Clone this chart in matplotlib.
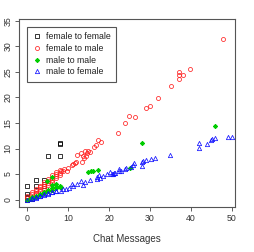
import numpy as np
import matplotlib
matplotlib.use("Agg")
import matplotlib.pyplot as plt

plt.rcParams['font.family'] = ['Liberation Sans', 'DejaVu Sans']

# female to female (black squares)
ff_x = [0, 0, 0, 1, 0, 0, 2, 4, 2, 4, 5, 8, 8, 8]
ff_y = [0, 0.3, 0.6, 0.2, 1.0, 2.6, 2.6, 2.6, 3.9, 3.9, 8.6, 8.6, 10.8, 11.0]

# female to male (red circles)
fm_x = [0, 0, 1, 1, 1, 2, 2, 2, 2, 3, 3, 3, 3, 4, 4, 4, 4, 5, 5, 5, 5,
        6, 6, 6, 6, 7, 7, 7, 7, 8, 8, 8,
        8.1, 8.8, 9.0, 9.8, 9.9, 10.8, 11.2, 11.6, 11.9, 12.2, 13.3, 13.8,
        13.2, 13.5, 14.3, 14.0, 14.5, 14.8, 15.2, 16.2, 16.9, 17.2, 18.1,
        22.2, 24.0, 24.9, 26.3, 29.0, 30.1, 31.9, 35.2, 37, 37, 37, 38.1,
        39.9, 48.0]
fm_y = [0.3, 0.8, 0.6, 1.0, 1.4, 1.0, 1.3, 1.7, 2.1, 1.6, 2.0, 2.4, 2.7,
        2.3, 2.6, 3.0, 3.4, 2.9, 3.3, 3.7, 4.1, 3.5, 3.9, 4.3, 4.8, 4.2,
        4.6, 5.0, 5.4, 4.9, 5.3, 5.8,
        5.6, 5.6, 5.9, 5.6, 6.1, 6.8, 7.0, 7.2, 7.4, 8.7, 7.4, 8.1,
        9.1, 8.6, 8.6, 9.5, 9.2, 9.6, 9.4, 10.3, 10.7, 11.6, 11.2,
        13.0, 14.9, 16.4, 16.2, 17.9, 18.3, 19.8, 22.3, 24.9, 24.3, 23.7, 24.3,
        25.6, 31.5]

# male to male (green stars)
mm_x = [0, 0.5, 1, 1, 2, 2, 3, 3, 4, 4, 5, 5, 6, 6, 7, 7, 8, 8, 4.7, 5.9,
        6, 7, 8.2, 14.9, 15.6, 16.1, 17.2, 25.1, 28.1, 46.0]
mm_y = [0, 0.2, 0.3, 0.5, 0.6, 0.8, 0.9, 1.1, 1.3, 1.5, 1.6, 1.9, 1.9, 2.2,
        2.2, 2.5, 2.4, 2.7, 3.6, 4.4, 2.8, 3.0, 2.4, 5.4, 5.5, 5.6, 5.7,
        6.2, 11.1, 14.4]

# male to female (blue triangles)
mf_x = [0, 1, 1, 2, 2, 3, 3, 4, 4, 5, 5, 6, 6, 7, 7,
        8.2, 8.8, 9.4, 10.2, 10.8, 11.2, 12.1, 13.0, 13.7, 14.1, 15.2, 17.0,
        17.0, 17.6, 17.8, 18.6, 19.6, 20.2, 20.6, 20.9, 21.2, 21.4, 22.3,
        22.5, 22.9, 23.9, 24.1, 25.4, 25.9, 26.2, 28.1, 28.1, 28.4, 29.0,
        30.2, 31.3, 35.0, 41.9, 41.9, 44.0, 45.0, 45.3, 46.0, 49.0, 50.2]
mf_y = [0, 0.2, 0.3, 0.4, 0.5, 0.7, 0.8, 0.9, 1.0, 1.1, 1.3, 1.4, 1.5, 1.6,
        1.7, 1.7, 2.0, 2.0, 2.2, 3.0, 2.6, 3.0, 3.6, 2.8, 3.5, 3.8, 4.0,
        4.5, 4.9, 4.2, 4.7, 5.1, 5.4, 5.1, 5.1, 5.3, 5.3, 5.6,
        6.0, 5.6, 5.9, 6.1, 6.4, 6.8, 7.1, 6.6, 7.3, 7.6, 7.8,
        7.9, 8.1, 8.8, 11.0, 10.1, 10.9, 11.7, 11.9, 12.1, 12.2, 12.3]

x_ticks = [0, 10, 20, 30, 40, 50]
y_ticks = [0, 5, 10, 15, 20, 25, 30, 35]

fig = plt.figure(figsize=(2.55, 2.52), dpi=100)
ax = fig.add_axes([0.0757, 0.1786, 0.8470, 0.7448])

ms = 2.8
mew = 0.55
ax.plot(ff_x, ff_y, 's', ms=ms - 0.2, mfc='none', mec='black', mew=mew,
        label='female to female', clip_on=False)
ax.plot(fm_x, fm_y, 'o', ms=ms + 0.1, mfc='none', mec='#ff2020', mew=mew,
        label='female to male', clip_on=False)
ax.plot(mm_x, mm_y, marker=(8, 2, 0), ls='none', ms=ms + 0.4, mec='#00cc00',
        mew=0.7, label='male to male', clip_on=False)
ax.plot(mf_x, mf_y, '^', ms=ms + 0.3, mfc='none', mec='#1010ff', mew=mew,
        label='male to female', clip_on=False)

ax.set_xlim(-2.0, 50.9)
ax.set_ylim(-1.45, 35.3)
ax.set_xticks(x_ticks)
ax.set_yticks(y_ticks)
ax.tick_params(labelsize=6.3, length=3, width=0.6, color='#444444', pad=2,
               labelcolor='#333333')
for lab in ax.get_yticklabels():
    lab.set_rotation(90)
    lab.set_va('center')
for s in ax.spines.values():
    s.set_color('#555555')
    s.set_linewidth(0.8)
ax.set_xlabel('Chat Messages', fontsize=7, labelpad=8, color='#333333')

leg = ax.legend(loc='upper left', bbox_to_anchor=(0.037, 0.9606),
                borderaxespad=0, fontsize=6.3, fancybox=False,
                edgecolor='#555555', framealpha=1, handlelength=1.0,
                handletextpad=0.45, labelspacing=0.3, borderpad=0.65)
leg.get_frame().set_linewidth(0.8)
for t in leg.get_texts():
    t.set_color('#222222')

plt.savefig('out.png', dpi=100)
